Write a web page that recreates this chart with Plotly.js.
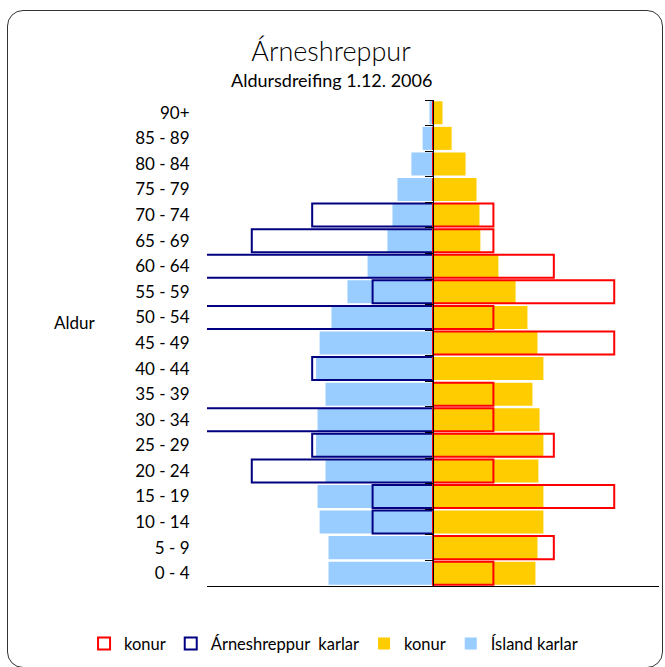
<!DOCTYPE html>
<html><head><meta charset="utf-8">
<script src="https://cdn.plot.ly/plotly-3.0.1.min.js"></script>
<style>
html,body{margin:0;padding:0;background:#fff;}
#frame{position:absolute;left:7px;top:10px;width:656px;height:658px;border:1.5px solid #333;border-radius:16px;box-sizing:border-box;}
#chart{position:absolute;left:0;top:0;width:665px;height:667px;}
</style></head><body>
<div id="frame"></div><div id="chart"></div>
<script>
// Age groups, bottom to top
const ageGroups = ['0 - 4','5 - 9','10 - 14','15 - 19','20 - 24','25 - 29','30 - 34','35 - 39','40 - 44','45 - 49','50 - 54','55 - 59','60 - 64','65 - 69','70 - 74','75 - 79','80 - 84','85 - 89','90+'];
// Ísland, % of population
const islandKarlar = [3.53,3.53,3.83,3.90,3.63,3.95,3.90,3.63,3.95,3.83,3.43,2.89,2.21,1.54,1.37,1.20,0.73,0.35,0.12];
const islandKonur  = [3.46,3.53,3.73,3.73,3.56,3.73,3.60,3.36,3.73,3.53,3.19,2.79,2.21,1.60,1.57,1.47,1.10,0.63,0.32];
// Árneshreppur, persons
const arnesKarlar = [0,0,1,1,3,2,4,0,2,0,4,1,4,3,2,0,0,0,0];
const arnesKonur  = [1,2,0,3,1,2,1,1,0,3,1,3,2,1,1,0,0,0,0];
const arnesTotal = 49;

const pct = v => v / arnesTotal * 100;
const FONT = 'Lato, "Open Sans", sans-serif';

const traces = [
  {type:'bar', orientation:'h', name:'Ísland karlar', y:ageGroups, x:islandKarlar.map(v=>-v),
   marker:{color:'#99CCFF', line:{width:0}}, legendrank:4, xaxis:'x', yaxis:'y'},
  {type:'bar', orientation:'h', name:'konur', y:ageGroups, x:islandKonur,
   marker:{color:'#FFCC00', line:{width:0}}, legendrank:3, xaxis:'x', yaxis:'y'},
  {type:'bar', orientation:'h', name:'Árneshreppur  karlar', y:ageGroups, x:arnesKarlar.map(v=>-pct(v)),
   marker:{color:'rgba(0,0,0,0)', line:{color:'#000080', width:2}}, legendrank:2, xaxis:'x', yaxis:'y2'},
  {type:'bar', orientation:'h', name:'konur', y:ageGroups, x:arnesKonur.map(pct),
   marker:{color:'rgba(0,0,0,0)', line:{color:'#FF0000', width:2}}, legendrank:1, xaxis:'x', yaxis:'y2'}
];

const R = 7.635;
const layout = {
  width:665, height:667,
  margin:{l:207, r:6, t:100, b:81},
  paper_bgcolor:'rgba(0,0,0,0)', plot_bgcolor:'rgba(0,0,0,0)',
  font:{family:FONT, color:'#000', size:17},
  barmode:'overlay', bargap:0.1,
  showlegend:true,
  legend:{orientation:'h', x:-0.272, xanchor:'left', y:-0.083, yanchor:'top',
          font:{family:FONT, size:16.5, color:'#000'}, itemwidth:30, traceorder:'normal'},
  xaxis:{range:[-R,R], showticklabels:false, ticks:'', showgrid:false, zeroline:false,
         showline:true, linecolor:'#000', linewidth:1, fixedrange:true},
  yaxis:{type:'category', categoryarray:ageGroups, categoryorder:'array', range:[-0.5,18.5],
         ticks:'outside', ticklen:13, tickcolor:'rgba(0,0,0,0)', showline:false, showgrid:false,
         tickfont:{family:FONT, size:17, color:'#000'}},
  yaxis2:{type:'category', categoryarray:ageGroups, categoryorder:'array', range:[-0.5,18.5],
          overlaying:'y', anchor:'free', position:0.5, side:'left', showticklabels:false,
          ticks:'outside', tickson:'boundaries', ticklen:8, tickcolor:'#000', tickwidth:1,
          showline:true, linecolor:'#000', linewidth:1, showgrid:false},
  title:{text:'Árneshreppur', font:{family:FONT, size:27, color:'#000', weight:300},
         x:331/665, xanchor:'center', xref:'container', y:1-52/667, yanchor:'middle', yref:'container'},
  annotations:[
    {text:'Aldursdreifing 1.12. 2006', xref:'paper', yref:'paper', x:(331-207)/452, y:(586-80)/486,
     xanchor:'center', yanchor:'middle', showarrow:false, font:{family:FONT, size:18, color:'#000'}},
    {text:'Aldur', xref:'paper', yref:'paper', x:(52-207)/452, y:(586-322)/486,
     xanchor:'left', yanchor:'middle', showarrow:false, font:{family:FONT, size:17, color:'#000'}}
  ]
};

Plotly.newPlot('chart', traces, layout, {staticPlot:true, displayModeBar:false});
</script>
</body></html>
